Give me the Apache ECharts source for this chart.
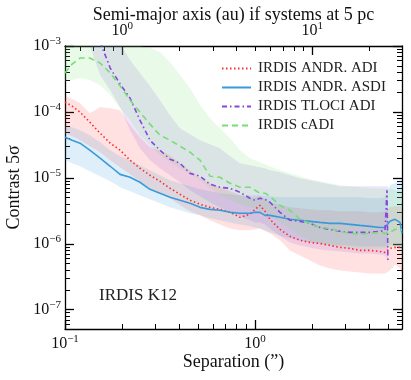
<!DOCTYPE html>
<html><head><meta charset="utf-8">
<script src="https://cdn.jsdelivr.net/npm/echarts@6/dist/echarts.min.js"></script>
<style>html,body{margin:0;padding:0;background:#fff}#c{width:411px;height:380px}</style>
</head><body><div id="c"></div>
<script>
const FONT = '"Liberation Serif", "Times New Roman", serif';
const distPc = 5;
const sepMin = 0.1, sepMax = 5.94;
const contrastMin = 5.1e-8, contrastMax = 1e-3;

// separation grid (arcsec) for ADI / ASDI / cADI
const sepGrid = [0.100,0.109,0.120,0.135,0.153,0.173,0.195,0.220,0.248,0.280,0.316,0.357,0.403,0.455,0.514,0.580,0.654,0.739,0.834,0.941,1.00,1.062,1.129,1.199,1.354,1.528,1.725,1.948,2.198,2.481,2.802,3.162,3.570,4.030,4.550,4.833,5.135,5.456,5.797,5.939];

const adiLine  = [1.41e-4,1.225e-4,9.93e-5,7.00e-5,4.76e-5,3.36e-5,2.63e-5,1.85e-5,1.40e-5,1.095e-5,8.88e-6,6.95e-6,5.63e-6,4.57e-6,3.97e-6,3.57e-6,3.33e-6,3.00e-6,2.52e-6,2.80e-6,3.33e-6,3.83e-6,3.11e-6,2.35e-6,1.65e-6,1.30e-6,1.13e-6,1.05e-6,1.01e-6,9.46e-7,8.82e-7,8.51e-7,7.94e-7,7.94e-7,7.66e-7,7.40e-7,8.51e-7,8.82e-7,8.82e-7,8.82e-7];
const adiUpper = [1.74e-4,1.565e-4,1.36e-4,9.59e-5,1.18e-4,1.14e-4,1.065e-4,6.30e-5,4.14e-5,2.92e-5,2.63e-5,2.21e-5,1.67e-5,1.30e-5,9.86e-6,8.28e-6,7.20e-6,6.26e-6,5.44e-6,4.90e-6,5.07e-6,5.25e-6,4.73e-6,4.26e-6,3.83e-6,3.57e-6,3.45e-6,3.33e-6,3.22e-6,3.22e-6,3.11e-6,3.11e-6,3.11e-6,3.00e-6,3.00e-6,3.11e-6,3.57e-6,3.70e-6,3.70e-6,3.70e-6];
const adiLower = [4.76e-5,4.29e-5,3.73e-5,3.02e-5,2.45e-5,1.85e-5,1.45e-5,1.13e-5,8.88e-6,6.95e-6,5.83e-6,4.90e-6,3.83e-6,3.11e-6,2.70e-6,2.27e-6,1.97e-6,1.71e-6,1.60e-6,1.60e-6,1.65e-6,1.71e-6,1.545e-6,1.44e-6,1.13e-6,7.94e-7,6.66e-7,5.59e-7,4.70e-7,4.23e-7,3.94e-7,3.80e-7,3.67e-7,3.55e-7,3.55e-7,3.55e-7,3.94e-7,4.87e-7,4.23e-7,3.43e-7];

const asdiLine  = [4.14e-5,3.73e-5,3.36e-5,2.63e-5,1.99e-5,1.50e-5,1.13e-5,1.02e-5,8.57e-6,6.71e-6,5.83e-6,5.07e-6,4.57e-6,4.11e-6,3.57e-6,3.33e-6,3.22e-6,3.00e-6,2.90e-6,2.90e-6,3.00e-6,3.00e-6,2.70e-6,2.70e-6,2.52e-6,2.35e-6,2.27e-6,2.19e-6,2.11e-6,2.04e-6,2.04e-6,1.97e-6,1.90e-6,1.84e-6,1.77e-6,1.77e-6,2.19e-6,2.35e-6,2.11e-6,1.44e-6];
const asdiUpper = [6.30e-5,5.87e-5,5.29e-5,4.44e-5,3.48e-5,2.63e-5,2.13e-5,1.85e-5,1.55e-5,1.30e-5,1.095e-5,9.19e-6,8.28e-6,7.45e-6,6.71e-6,6.26e-6,5.83e-6,5.63e-6,5.44e-6,5.44e-6,5.44e-6,5.44e-6,5.25e-6,5.25e-6,5.07e-6,5.07e-6,5.07e-6,5.07e-6,5.07e-6,5.07e-6,5.07e-6,5.07e-6,5.07e-6,4.90e-6,4.90e-6,5.07e-6,7.72e-6,8.28e-6,9.19e-6,9.19e-6];
const asdiLower = [1.85e-5,1.67e-5,1.50e-5,1.26e-5,1.06e-5,8.88e-6,7.20e-6,6.26e-6,5.44e-6,4.73e-6,4.11e-6,3.57e-6,3.22e-6,2.90e-6,2.70e-6,2.43e-6,2.27e-6,2.11e-6,1.97e-6,1.84e-6,1.77e-6,1.71e-6,1.60e-6,1.49e-6,1.34e-6,1.21e-6,1.13e-6,1.05e-6,1.01e-6,9.79e-7,9.46e-7,9.46e-7,9.13e-7,9.13e-7,9.13e-7,9.13e-7,9.46e-7,9.46e-7,8.51e-7,6.66e-7];

const cadiLine  = [3.89e-4,5.33e-4,6.57e-4,6.57e-4,5.52e-4,3.89e-4,2.47e-4,1.51e-4,9.93e-5,6.53e-5,4.44e-5,3.73e-5,3.02e-5,2.45e-5,1.85e-5,1.06e-5,1.02e-5,8.28e-6,7.20e-6,7.20e-6,6.48e-6,5.83e-6,5.83e-6,5.25e-6,3.83e-6,3.22e-6,2.35e-6,2.04e-6,1.77e-6,1.71e-6,1.545e-6,1.44e-6,1.39e-6,1.44e-6,1.49e-6,1.44e-6,1.49e-6,1.65e-6,1.71e-6,1.60e-6];
const cadiUpper = [1.75e-3,1.75e-3,1.75e-3,1.75e-3,1.75e-3,1.75e-3,1.75e-3,1.75e-3,1.0e-3,9.33e-4,8.10e-4,5.71e-4,3.62e-4,2.30e-4,1.27e-4,8.05e-5,5.67e-5,4.00e-5,2.63e-5,1.99e-5,1.85e-5,1.73e-5,1.61e-5,1.50e-5,1.30e-5,1.17e-5,1.06e-5,9.52e-6,8.88e-6,8.28e-6,7.72e-6,7.45e-6,7.20e-6,6.95e-6,6.95e-6,6.95e-6,6.95e-6,6.48e-6,6.48e-6,6.48e-6];
const cadiLower = [2.84e-4,3.04e-4,3.26e-4,3.04e-4,2.55e-4,1.80e-4,1.14e-4,7.51e-5,4.44e-5,3.13e-5,2.21e-5,1.73e-5,1.40e-5,1.13e-5,9.19e-6,6.95e-6,5.63e-6,4.73e-6,3.97e-6,3.57e-6,3.45e-6,3.22e-6,3.00e-6,2.70e-6,2.11e-6,1.71e-6,1.34e-6,1.13e-6,1.01e-6,9.46e-7,8.82e-7,8.51e-7,8.22e-7,8.22e-7,8.51e-7,8.51e-7,8.82e-7,9.13e-7,9.13e-7,7.94e-7];

// TLOCI has its own separation sampling
const tlociSep   = [0.135,0.153,0.173,0.195,0.220,0.248,0.280,0.316,0.357,0.403,0.455,0.514,0.580,0.654,0.739,0.834,0.941,1.00,1.062,1.129,1.199,1.354,1.528,1.725,1.948,2.198,2.481,2.802,3.162,3.570,4.030,4.550,4.833,4.951,5.012];
const tlociLine  = [null,1.15e-3,4.63e-4,2.65e-4,1.62e-4,7.51e-5,3.73e-5,2.63e-5,1.92e-5,1.67e-5,1.17e-5,1.06e-5,8.0e-6,7.20e-6,6.95e-6,6.04e-6,4.90e-6,4.57e-6,4.90e-6,4.73e-6,4.26e-6,3.00e-6,2.27e-6,2.19e-6,2.04e-6,1.77e-6,1.65e-6,1.545e-6,1.49e-6,1.49e-6,1.49e-6,1.545e-6,1.60e-6,6.48e-6,5.22e-7];
const tlociUpper = [1.75e-3,1.47e-3,1.32e-3,1.07e-3,6.12e-4,3.89e-4,2.47e-4,1.51e-4,8.94e-5,5.67e-5,4.60e-5,3.73e-5,3.24e-5,2.82e-5,2.13e-5,1.67e-5,1.55e-5,1.50e-5,1.45e-5,1.40e-5,1.30e-5,1.22e-5,1.095e-5,9.86e-6,9.19e-6,8.57e-6,8.0e-6,7.45e-6,7.45e-6,7.45e-6,7.45e-6,7.45e-6,7.45e-6,7.45e-6,7.45e-6];
const tlociLower = [1.0e-3,3.62e-4,2.14e-4,1.18e-4,5.29e-5,2.82e-5,1.85e-5,1.40e-5,1.095e-5,8.57e-6,6.48e-6,5.25e-6,4.26e-6,3.57e-6,3.00e-6,2.61e-6,2.27e-6,2.11e-6,2.11e-6,1.97e-6,1.71e-6,1.30e-6,1.05e-6,9.46e-7,8.82e-7,8.22e-7,7.94e-7,7.66e-7,7.40e-7,7.14e-7,7.14e-7,6.90e-7,6.66e-7,6.00e-7,5.22e-7];

const names = ['IRDIS ANDR. ADI','IRDIS ANDR. ASDI','IRDIS TLOCI ADI','IRDIS cADI'];
const colors = ['#ff2a2a','#3a9ad9','#8a45e0','#77dd77'];
const bandColors = ['rgba(255,40,40,0.14)','rgba(58,154,217,0.16)','rgba(138,69,224,0.14)','rgba(119,221,119,0.16)'];
const annotation = 'IRDIS K12';

const L = Math.log10;
const pairs = (xs, ys) => xs.map((x, i) => [L(x), ys[i] == null ? '-' : L(ys[i])]);

function band(xs, lo, hi, color) {
  return {
    type: 'custom', xAxisIndex: 0, yAxisIndex: 0, silent: true, z: 1, clip: true,
    data: [[L(xs[0]), L(lo[0])]], encode: {x: 0, y: 1},
    renderItem: (params, api) => {
      const pts = [];
      for (let i = 0; i < xs.length; i++) pts.push(api.coord([L(xs[i]), L(hi[i])]));
      for (let i = xs.length - 1; i >= 0; i--) pts.push(api.coord([L(xs[i]), L(lo[i])]));
      const cs = params.coordSys;
      return {type: 'polygon', shape: {points: pts}, style: {fill: color},
        clipPath: {type: 'rect', shape: {x: cs.x, y: cs.y, width: cs.width, height: cs.height}}};
    }
  };
}
function line(name, xs, ys, color, type, width) {
  return {name, type: 'line', xAxisIndex: 0, yAxisIndex: 0, data: pairs(xs, ys), symbol: 'none', showSymbol: false,
    clip: true, z: 3, silent: true, connectNulls: false,
    lineStyle: {color, width, type, cap: 'butt'}, itemStyle: {color}, emphasis: {disabled: true}};
}

const sup = v => { const n = Math.round(v); return '{b|10}{s|' + (n < 0 ? '\u2212' + (-n) : n) + '}'; };
const rich = {b: {fontSize: 16, fontFamily: FONT, color: '#111'}, s: {fontSize: 11, fontFamily: FONT, color: '#111', padding: [0, 0, 9, 0]}};

function minorTicks(lo, hi) {
  const out = [];
  for (let e = Math.floor(lo) - 1; e <= Math.ceil(hi); e++)
    for (let k = 2; k <= 9; k++) { const v = e + L(k); if (v > lo + 1e-6 && v < hi - 1e-6) out.push(v); }
  return out;
}
function majorTicks(lo, hi) { const out = []; for (let e = Math.ceil(lo - 1e-9); e <= hi + 1e-9; e++) out.push(e); return out; }

const axLine = {show: true, onZero: false, lineStyle: {color: '#000', width: 1.3}};
const noLine = {show: false, onZero: false};
const nameStyle = {fontSize: 18, fontFamily: FONT, color: '#111'};
function makeXAxis(pos, min, max, major, name, nameGap) {
  return [{
    type: 'value', position: pos, min, max, splitLine: {show: false}, axisLine: axLine,
    axisTick: {show: true, inside: true, length: 9, lineStyle: {color: '#000', width: 1.3}, customValues: major},
    axisLabel: {show: true, customValues: major, formatter: sup, rich, margin: 5},
    name, nameLocation: 'middle', nameGap, nameMoveOverlap: false, nameTextStyle: nameStyle
  }, {
    type: 'value', position: pos, min, max, splitLine: {show: false}, axisLine: noLine,
    axisTick: {show: true, inside: true, length: 5, lineStyle: {color: '#000', width: 1}, customValues: minorTicks(min, max)},
    axisLabel: {show: false}
  }];
}
function makeYAxis(pos, min, max, labels, name) {
  const major = majorTicks(min, max);
  return [{
    type: 'value', position: pos, min, max, splitLine: {show: false}, axisLine: axLine,
    axisTick: {show: true, inside: true, length: 9, lineStyle: {color: '#000', width: 1.3}, customValues: major},
    axisLabel: {show: labels, customValues: major, formatter: sup, rich, margin: 4},
    name: name || '', nameLocation: 'middle', nameGap: 42, nameRotate: 90, nameMoveOverlap: false,
    nameTextStyle: nameStyle
  }, {
    type: 'value', position: pos, min, max, splitLine: {show: false}, axisLine: noLine,
    axisTick: {show: true, inside: true, length: 5, lineStyle: {color: '#000', width: 1}, customValues: minorTicks(min, max)},
    axisLabel: {show: false}
  }];
}

const xMin = L(sepMin), xMax = L(sepMax);
const axBottom = makeXAxis('bottom', xMin, xMax, majorTicks(xMin, xMax), 'Separation (\u201D)', 24);
const auMin = L(sepMin * distPc), auMax = L(sepMax * distPc);
const axTop = makeXAxis('top', auMin, auMax, majorTicks(auMin, auMax), 'Semi-major axis (au) if systems at 5 pc', 22);
const axLeft = makeYAxis('left', L(contrastMin), L(contrastMax), true, 'Contrast 5\u03C3');
const axRight = makeYAxis('right', L(contrastMin), L(contrastMax), false);

const chart = echarts.init(document.getElementById('c'), null, {renderer: 'canvas'});
chart.setOption({
  animation: false,
  backgroundColor: '#fff',
  textStyle: {fontFamily: FONT},
  grid: {left: 65, right: 9, top: 46, bottom: 51, containLabel: false, outerBoundsMode: 'none'},
  xAxis: [...axBottom, ...axTop],
  yAxis: [...axLeft, ...axRight],
  title: {text: annotation, left: 99, top: 287, padding: 0, textStyle: {fontFamily: FONT, fontSize: 17, fontWeight: 'normal', color: '#222'}},
  legend: {show: true, orient: 'vertical', left: 221, top: 61, itemWidth: 29, itemHeight: 12, itemGap: 4, data: names,
    selectedMode: false, padding: 0,
    itemStyle: {color: 'rgba(0,0,0,0)', borderColor: 'rgba(0,0,0,0)', borderWidth: 0, opacity: 0},
    textStyle: {fontFamily: FONT, fontSize: 15, color: '#222', padding: [0, 0, 0, 2]}},
  series: [
    band(sepGrid, adiLower, adiUpper, bandColors[0]),
    band(sepGrid, asdiLower, asdiUpper, bandColors[1]),
    band(tlociSep, tlociLower, tlociUpper, bandColors[2]),
    band(sepGrid, cadiLower, cadiUpper, bandColors[3]),
    line(names[0], sepGrid, adiLine, colors[0], [1.5, 2.5], 1.6),
    line(names[1], sepGrid, asdiLine, colors[1], 'solid', 1.6),
    line(names[2], tlociSep, tlociLine, colors[2], [5, 3, 1.5, 3], 1.6),
    line(names[3], sepGrid, cadiLine, colors[3], [6, 4], 1.6)
  ]
});
</script></body></html>
